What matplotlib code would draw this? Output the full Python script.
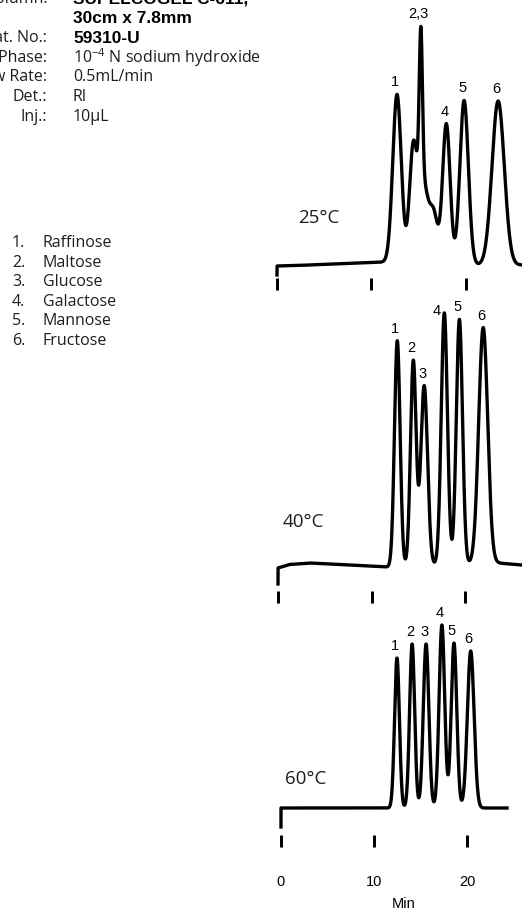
import numpy as np
import matplotlib.pyplot as plt

plt.rcParams['mathtext.default'] = 'regular'

# --- Data ---
# peak retention times (min), apex heights (relative response) and widths (sigma, min)
t25 = [12.70, 14.40, 15.22, 15.45, 16.60, 17.92, 19.80, 23.40]
h25 = [168, 108, 150, 80, 45, 140, 164, 164]
s25 = [0.45, 0.40, 0.17, 0.55, 0.42, 0.40, 0.45, 0.65]
base25_t = [0, 2, 11.5, 21.5, 26]
base25_y = [0, 0.5, 4, 1, 1]

t40 = [12.73, 14.44, 15.60, 17.75, 19.36, 21.90]
h40 = [226, 205, 180, 252, 245, 236]
s40 = [0.30, 0.30, 0.36, 0.33, 0.33, 0.48]
base40_t = [0, 1.2, 3.4, 6.5, 11.7, 23.5, 26]
base40_y = [0, 3.5, 5, 3.5, 1, 5, 3]

t60 = [12.47, 14.10, 15.60, 17.30, 18.60, 20.40]
h60 = [150, 164, 164, 183, 165, 157]
s60 = [0.26, 0.27, 0.30, 0.30, 0.30, 0.36]
base60_t = [0, 24.3]
base60_y = [0, 0]

labels25 = ['1', '2,3', '4', '5', '6']
label_t25 = [12.70, 15.22, 17.92, 19.80, 23.40]
labels40 = ['1', '2', '3', '4', '5', '6']
labels60 = ['1', '2', '3', '4', '5', '6']

temps = ['25°C', '40°C', '60°C']
end_t = [26, 26, 24.3]
inj_drop = [9, 16, 19]
xticks = [0, 10, 20]

sugars = ['Raffinose', 'Maltose', 'Glucose', 'Galactose', 'Mannose', 'Fructose']
cond_keys = ['Column:', '', 'Cat. No.:', 'Mobile Phase:', 'Flow Rate:', 'Det.:', 'Inj.:']
cond_vals = ['SUPELCOGEL C-611,', '30cm x 7.8mm', '59310-U',
             '10$^{-4}$ N sodium hydroxide', '0.5mL/min', 'RI', '10µL']
cond_bold = [True, True, True, False, False, False, False]

# --- Layout (pixels) ---
W, H, DPI = 522, 911, 100
# x of t=0, px per min, y of zero signal, axes top, axes bottom, tick top
panels = [
    (277, 9.45, 266, 0, 300, 278),
    (278, 9.37, 568, 300, 620, 591),
    (281, 9.30, 808, 620, 911, 835),
]
temp_pos = [(2.2, 48), (0.45, 46), (0.45, 29)]
TEXT = 'Open Sans'
ARIAL = 'Liberation Sans'
INK = '#1e1e1e'

fig = plt.figure(figsize=(W / DPI, H / DPI), dpi=DPI)

series = [
    (t25, h25, s25, base25_t, base25_y, labels25, label_t25),
    (t40, h40, s40, base40_t, base40_y, labels40, t40),
    (t60, h60, s60, base60_t, base60_y, labels60, t60),
]

for i, ((x0, ppm, zero, ytop, ybot, ttop), (tp, hp, sp, bt, by, labs, lt)) in enumerate(zip(panels, series)):
    ax = fig.add_axes([0, 1 - ybot / H, 1, (ybot - ytop) / H])
    ax.set_xlim(-x0 / ppm, (W - x0) / ppm)
    ax.set_ylim(zero - ybot, zero - ytop)
    ax.patch.set_visible(False)

    t = np.linspace(0, end_t[i], 3000)
    y = np.interp(t, bt, by)
    for tc, hc, sc in zip(tp, hp, sp):
        y = y + hc * np.exp(-0.5 * ((t - tc) / sc) ** 2)
    t = np.concatenate([[0], t])
    y = np.concatenate([[-inj_drop[i]], y])
    ax.plot(t, y, color='black', lw=2.4, solid_joinstyle='round')

    for lab, tl in zip(labs, lt):
        yl = np.interp(tl, t[1:], y[1:])
        dx = -8 if (i == 1 and lab == '4') else -2
        dy = 2 if (i == 1 and lab == '4') else 12
        ax.annotate(lab, (tl, yl), xytext=(dx, dy), textcoords='offset pixels',
                    ha='center', va='center', fontsize=10.5, family=ARIAL)

    ax.text(temp_pos[i][0], temp_pos[i][1], temps[i], fontsize=13.5, family=TEXT,
            color=INK, ha='left', va='center')

    for s in ax.spines.values():
        s.set_visible(False)
    ax.spines['bottom'].set_position(('data', zero - ttop))
    ax.set_xticks(xticks)
    ax.tick_params(axis='x', direction='out', length=12 * 72 / DPI, width=3 * 72 / DPI,
                   labelbottom=(i == 2), pad=28 * 72 / DPI, labelsize=10.5)
    ax.tick_params(axis='y', left=False, labelleft=False)
    for tl in ax.get_xticklabels():
        tl.set_family(ARIAL)
    if i == 2:
        ax.set_xlabel('Min', fontsize=10.5, family=ARIAL)
        ax.xaxis.set_label_coords(404 / W, (911 - 897) / (ybot - ytop))

# conditions block (cut off at the left edge in the original)
for j, (k, v, b) in enumerate(zip(cond_keys, cond_vals, cond_bold)):
    yc = -1 + 19.6 * j
    fig.text(47 / W, 1 - yc / H, k, ha='right', va='center', fontsize=11.5,
             family=TEXT, color=INK)
    if b:
        fig.text(73 / W, 1 - yc / H, v, ha='left', va='center', fontsize=12.5,
                 family=ARIAL, weight='bold')
    else:
        fig.text(73 / W, 1 - yc / H, v, ha='left', va='center', fontsize=11.5,
                 family=TEXT, color=INK)

# compound list
for j, name in enumerate(sugars):
    yc = 243 + 19.6 * j
    fig.text(12 / W, 1 - yc / H, f'{j + 1}.', ha='left', va='center', fontsize=11.5,
             family=TEXT, color=INK)
    fig.text(43 / W, 1 - yc / H, name, ha='left', va='center', fontsize=11.5,
             family=TEXT, color=INK)

fig.savefig('out.png', dpi=DPI)
